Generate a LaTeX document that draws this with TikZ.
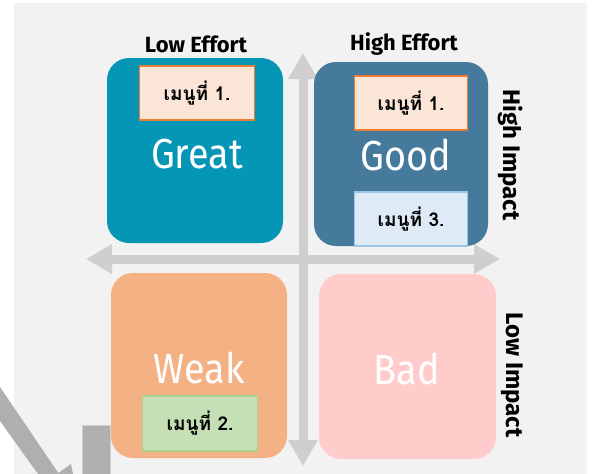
\documentclass[tikz,border=0pt]{standalone}
\usepackage{fontspec}
\setsansfont{Fira Sans}
\newfontfamily\thaifont[Script=Thai]{Loma}
\newfontfamily\verdictfont[FakeStretch=0.9]{Fira Sans}
\usetikzlibrary{arrows.meta}

\definecolor{pagegray}{HTML}{F2F2F2}
\definecolor{axisgray}{HTML}{D0CECE}
\definecolor{stampgray}{HTML}{B1AEAE}
\definecolor{greatblue}{HTML}{0595B5}
\definecolor{goodblue}{HTML}{457A9C}
\definecolor{weakorange}{HTML}{F4B183}
\definecolor{badpink}{HTML}{FFCCCB}
\definecolor{peachfill}{HTML}{FBE5D6}
\definecolor{peachline}{HTML}{ED7D31}
\definecolor{skyfill}{HTML}{DEEBF7}
\definecolor{skyline}{HTML}{9DC3E6}
\definecolor{mintfill}{HTML}{C5E0B4}
\definecolor{mintline}{HTML}{A9D18E}

\begin{document}
\begin{tikzpicture}
  [
    x = 1pt, y = -1pt,
    quadrant/.style = {shape=rectangle, rounded corners=22pt,
                       minimum width=176pt, minimum height=185pt,
                       inner sep=0pt},
    menu/.style     = {shape=rectangle, draw, line width=1.5pt,
                       minimum width=114pt, minimum height=54pt,
                       font=\thaifont\bfseries\fontsize{19}{21}\selectfont},
    verdict/.style  = {anchor=base, text=white,
                       font=\verdictfont\fontsize{42}{46}\selectfont},
    heading/.style  = {font=\sffamily\bfseries\fontsize{22}{24}\selectfont},
    % both ends get the same wide head
    axis/.style     = {draw=axisgray, line width=9pt,
                       {Triangle[length=26pt,width=28pt]}-{Triangle[length=26pt,width=28pt]}}
  ]
  \useasboundingbox (0,0) rectangle (592,474);
  \fill [pagegray] (14,3) rectangle (587,474);

  % the stamp peeking in at the lower left
  \fill [stampgray] (0,387) -- (59,474) -- (38,474) -- (0,421) -- cycle;
  \fill [stampgray] (57,474) -- (71,464) -- (73,474) -- cycle;
  \fill [stampgray, draw=stampgray!60] (82,425) rectangle (110,480);

  \coordinate (up)    at (303,53);
  \coordinate (down)  at (303,466);
  \coordinate (left)  at (86,259);
  \coordinate (right) at (500,259);
  \draw [axis] (left) -- (right);
  \draw [axis] (down) -- (up);

  \node [quadrant, fill=greatblue]  (great) at (195,150.5) {};
  \node [quadrant, fill=goodblue, minimum width=174pt, minimum height=184pt]
        (good) at (401,154) {};
  \node [quadrant, fill=weakorange] (weak) at (199,365.5) {};
  \node [quadrant, fill=badpink, minimum width=177pt] (bad) at (407.5,366.5) {};

  \node [menu, fill=peachfill, draw=peachline, minimum width=115pt]
        (greatmenu) at (197,93) {เมนูที่ 1.};
  \node [menu, fill=peachfill, draw=peachline, minimum width=113pt]
        (goodmenu) at (411,103) {เมนูที่ 1.};
  \node [menu, fill=skyfill, draw=skyline, minimum width=113pt]
        (goodmenuthree) at (411,219) {เมนูที่ 3.};
  \node [menu, fill=mintfill, draw=mintline, minimum width=115pt, minimum height=55pt]
        (weakmenu) at (200,423.5) {เมนูที่ 2.};

  \node [verdict] (greatword) at (197,168) {Great};
  \node [verdict] (goodword)  at (406,170) {Good};
  \node [verdict] (weakword)  at (199,383) {Weak};
  \node [verdict] (badword)   at (407,384) {Bad};

  \node [heading] (loweffort)  at (196,44) {Low Effort};
  \node [heading] (higheffort) at (404,44) {High Effort};
  \node [heading, rotate=-90, font=\sffamily\bfseries\fontsize{24}{26}\selectfont]
        (highimpact) at (511,155) {High Impact};
  \node [heading, rotate=-90, font=\sffamily\bfseries\fontsize{24}{26}\selectfont]
        (lowimpact)  at (512,375) {Low Impact};
\end{tikzpicture}
\end{document}
